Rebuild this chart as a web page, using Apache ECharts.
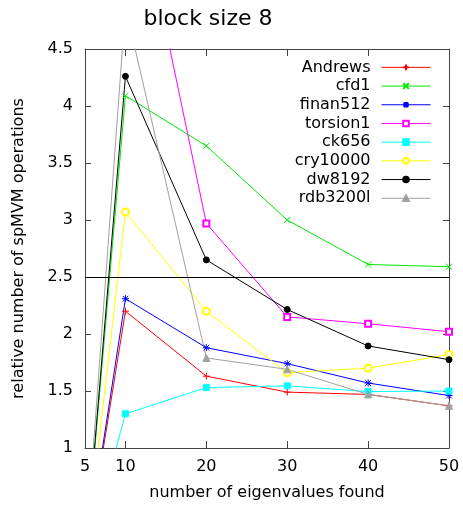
<!DOCTYPE html>
<html>
<head>
<meta charset="utf-8">
<script src="https://cdn.jsdelivr.net/npm/echarts@6/dist/echarts.min.js"></script>
<style>
  html, body { margin: 0; padding: 0; background: #fff; }
  #chart { width: 463px; height: 506px; }
</style>
</head>
<body>
<div id="chart"></div>
<script>
// number of eigenvalues found
var xValues = [5, 10, 20, 30, 40, 50];
var xLabelTicks = [5, 10, 20, 30, 40, 50];
var xTickMarks = [10, 20, 30, 40, 50];

// relative number of spMVM operations per matrix
var andrews  = [0, 2.2, 1.63, 1.49, 1.47, 1.37];
var cfd1     = [0, 4.09, 3.65, 3.0, 2.61, 2.59];
var finan512 = [0, 2.31, 1.88, 1.74, 1.57, 1.46];
var torsion1 = [null, 6.37, 2.97, 2.15, 2.09, 2.02];
var ck656    = [0, 1.3, 1.53, 1.545, 1.495, 1.5];
var cry10000 = [0, 3.07, 2.2, 1.66, 1.7, 1.82];
var dw8192   = [0, 4.26, 2.65, 2.215, 1.895, 1.775];
var rdb3200l = [0, 4.87, 1.79, 1.69, 1.47, 1.37];

var threshold = 2.5;

var FONT = "DejaVu Sans";

// gnuplot style point types
var PLUS = "path://M0,5L10,5M5,0L5,10";
var CROSS = "path://M0,0L10,10M10,0L0,10";
var STAR = "path://M0,5L10,5M5,0L5,10M1,1L9,9M9,1L1,9";

var seriesDefs = [
  { name: "Andrews",  data: andrews,  color: "#ff0000", symbol: PLUS,          size: 7 },
  { name: "cfd1",     data: cfd1,     color: "#00e800", symbol: CROSS,         size: 6 },
  { name: "finan512", data: finan512, color: "#0000ff", symbol: STAR,          size: 7 },
  { name: "torsion1", data: torsion1, color: "#ff00ff", symbol: "emptyRect",   size: 6 },
  { name: "ck656",    data: ck656,    color: "#00ffff", symbol: "rect",        size: 6 },
  { name: "cry10000", data: cry10000, color: "#ffff00", symbol: "emptyCircle", size: 7 },
  { name: "dw8192",   data: dw8192,   color: "#000000", symbol: "circle",      size: 6 },
  { name: "rdb3200l", data: rdb3200l, color: "#a0a0a0", symbol: "triangle",    size: 7 }
];

function pairs(arr) {
  return xValues.map(function (x, i) { return [x, arr[i]]; });
}

var series = seriesDefs.map(function (d) {
  return {
    name: d.name,
    type: "line",
    data: pairs(d.data),
    symbol: d.symbol,
    symbolSize: d.size,
    showAllSymbol: true,
    clip: true,
    animation: false,
    lineStyle: { color: d.color, width: 1 },
    itemStyle: { color: d.color, borderColor: d.color, borderWidth: 1 }
  };
});

// horizontal reference line
series.push({
  name: "ref",
  type: "line",
  data: [],
  silent: true,
  markLine: {
    symbol: "none",
    silent: true,
    label: { show: false },
    lineStyle: { color: "#000", width: 1, type: "solid" },
    data: [{ yAxis: threshold }]
  }
});

var axisLine = { show: true, lineStyle: { color: "#444", width: 1 } };

var option = {
  backgroundColor: "#fff",
  animation: false,
  textStyle: { fontFamily: FONT },
  title: {
    text: "block size 8",
    left: 203,
    top: 3,
    textAlign: "center",
    textStyle: { fontFamily: FONT, fontSize: 22, fontWeight: "normal", color: "#000" }
  },
  legend: {
    data: seriesDefs.map(function (d) { return d.name; }),
    orient: "vertical",
    align: "right",
    right: 27,
    top: 53,
    itemWidth: 49,
    itemHeight: 7,
    itemGap: 0,
    lineStyle: { width: 1 },
    textStyle: { fontFamily: FONT, fontSize: 16, color: "#000", lineHeight: 18.7, padding: [0, 6, 0, 0] }
  },
  grid: { left: 85, right: 14, top: 49, bottom: 55.5, containLabel: false },
  xAxis: [
    {
      type: "value",
      min: 5,
      max: 50,
      name: "number of eigenvalues found",
      nameLocation: "middle",
      nameGap: 37,
      nameTextStyle: { fontFamily: FONT, fontSize: 16, color: "#000" },
      axisLine: axisLine,
      axisTick: { show: true, inside: true, length: 7, customValues: xTickMarks, lineStyle: { color: "#444" } },
      axisLabel: { customValues: xLabelTicks, margin: 11, fontFamily: FONT, fontSize: 16, color: "#000" },
      splitLine: { show: false }
    },
    {
      type: "value",
      position: "top",
      min: 5,
      max: 50,
      axisLine: axisLine,
      axisTick: { show: true, inside: true, length: 7, customValues: xTickMarks, lineStyle: { color: "#444" } },
      axisLabel: { show: false },
      splitLine: { show: false }
    }
  ],
  yAxis: [
    {
      type: "value",
      min: 1,
      max: 4.5,
      interval: 0.5,
      name: "relative number of spMVM operations",
      nameLocation: "middle",
      nameGap: 58,
      nameTextStyle: { fontFamily: FONT, fontSize: 16, color: "#000" },
      axisLine: axisLine,
      axisTick: { show: true, inside: true, length: 6, lineStyle: { color: "#444" } },
      axisLabel: { margin: 12, fontFamily: FONT, fontSize: 16, color: "#000" },
      splitLine: { show: false }
    },
    {
      type: "value",
      position: "right",
      min: 1,
      max: 4.5,
      interval: 0.5,
      axisLine: axisLine,
      axisTick: { show: true, inside: true, length: 6, lineStyle: { color: "#444" } },
      axisLabel: { show: false },
      splitLine: { show: false }
    }
  ],
  series: series
};

var chart = echarts.init(document.getElementById("chart"), null, { renderer: "canvas" });
chart.setOption(option);
</script>
</body>
</html>
